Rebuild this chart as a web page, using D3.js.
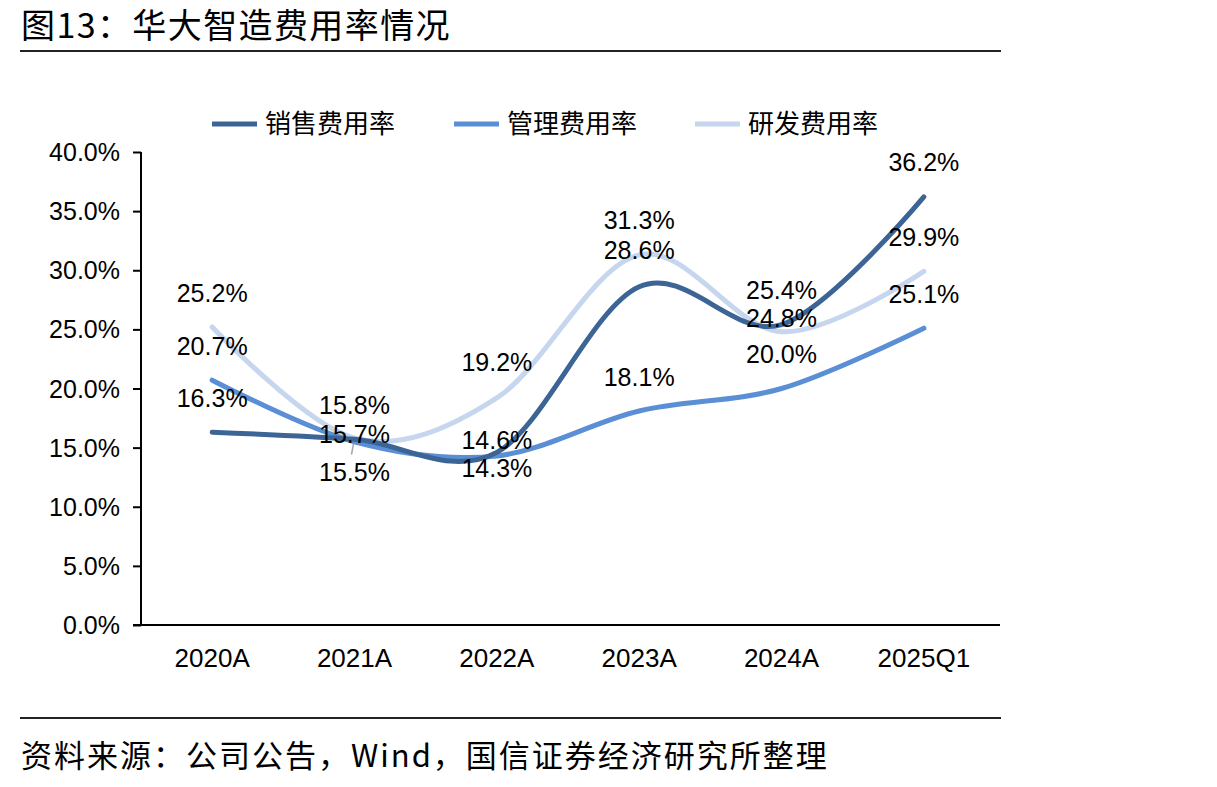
<!DOCTYPE html>
<html>
<head>
<meta charset="utf-8">
<script src="https://cdn.jsdelivr.net/npm/d3@7/dist/d3.min.js"></script>
<style>
  body { margin: 0; background: #fff; }
  svg { display: block; }
</style>
</head>
<body>
<div id="chart"></div>
<script>
// categories + series (percent)
var years = ["2020A", "2021A", "2022A", "2023A", "2024A", "2025Q1"];
var sales = [16.3, 15.7, 14.6, 28.6, 25.4, 36.2];   // 销售费用率
var admin = [20.7, 15.5, 14.3, 18.1, 20.0, 25.1];   // 管理费用率
var rnd   = [25.2, 15.8, 19.2, 31.3, 24.8, 29.9];   // 研发费用率
var yTicks = [0, 5, 10, 15, 20, 25, 30, 35, 40];

// label nudges (px, from the point) - the original has some labels moved by hand
var salesLabelDy = [-34, -5, -12, -37, -35, -35];
var adminLabelDy = [-34, 30, 12, -34, -35, -34];
var rndLabelDy   = [-34, -33, -36, -35, -14, -34];

var W = 1217, H = 787;
var latin = "Arimo, 'Liberation Sans', Arial, Helvetica, sans-serif";
var cjk = "'Noto Sans CJK SC', 'Noto Sans', sans-serif";

var series = [
  {name: "销售费用率", values: sales, color: "#3c6596", dy: salesLabelDy},
  {name: "管理费用率", values: admin, color: "#5b8fd5", dy: adminLabelDy},
  {name: "研发费用率", values: rnd,   color: "#c6d6ee", dy: rndLabelDy}
];

var svg = d3.select("#chart").append("svg")
    .attr("width", W)
    .attr("height", H);

// title + rules
svg.append("text")
    .attr("x", 21).attr("y", 38)
    .style("font-family", cjk)
    .style("font-size", "34px")
    .style("letter-spacing", "1.4px")
    .style("fill", "#000")
    .text("图13：华大智造费用率情况");

svg.append("line")
    .attr("x1", 20).attr("x2", 1001).attr("y1", 51).attr("y2", 51)
    .attr("stroke", "#222").attr("stroke-width", 2);

svg.append("line")
    .attr("x1", 20).attr("x2", 1001).attr("y1", 718).attr("y2", 718)
    .attr("stroke", "#222").attr("stroke-width", 2);

svg.append("text")
    .attr("x", 21).attr("y", 767)
    .style("font-family", cjk)
    .style("font-size", "31px")
    .style("letter-spacing", "2px")
    .style("fill", "#000")
    .text("资料来源：公司公告，Wind，国信证券经济研究所整理");

// scales
var x = d3.scalePoint().domain(years).range([141, 995]).padding(0.5);
var y = d3.scaleLinear().domain([0, 40]).range([625, 152]);

function label(g, tx, ty, str, size, anchor) {
  return g.append("text")
      .attr("x", tx).attr("y", ty)
      .attr("text-anchor", anchor)
      .attr("dy", "0.36em")
      .style("font-family", latin)
      .style("font-size", size + "px")
      .style("fill", "#000")
      .text(str);
}

// y axis
var yAxis = svg.append("g")
    .attr("transform", "translate(141,0)")
    .call(d3.axisLeft(y).tickValues(yTicks).tickSize(8).tickFormat(""));
yAxis.select(".domain").attr("stroke", "#000").attr("stroke-width", 2).attr("d", "M0,152V625");
yAxis.selectAll(".tick line").attr("stroke", "#000").attr("stroke-width", 2);
yTicks.forEach(function(t) {
  label(svg, 120, y(t), t.toFixed(1) + "%", 25, "end");
});

// x axis
var xAxis = svg.append("g")
    .attr("transform", "translate(0,625)")
    .call(d3.axisBottom(x).tickSize(0).tickFormat(""));
xAxis.select(".domain").attr("stroke", "#000").attr("stroke-width", 2).attr("d", "M133,0H1000");
years.forEach(function(c) {
  label(svg, x(c), 658, c, 26, "middle");
});

// lines
var line = d3.line()
    .x(function(d, i) { return x(years[i]); })
    .y(function(d) { return y(d); })
    .curve(d3.curveCardinal.tension(0));

// draw light first so darker series sit on top
series.slice().reverse().forEach(function(s) {
  svg.append("path")
      .datum(s.values)
      .attr("d", line)
      .attr("fill", "none")
      .attr("stroke", s.color)
      .attr("stroke-width", 5)
      .attr("stroke-linecap", "round");
});

// leader line for the moved 15.5% label
svg.append("line")
    .attr("x1", x("2021A") - 3).attr("y1", y(admin[1]) + 13)
    .attr("x2", x("2021A") - 1).attr("y2", y(admin[1]) + 2)
    .attr("stroke", "#a6a6a6").attr("stroke-width", 1.5);

// data labels
series.forEach(function(s) {
  s.values.forEach(function(v, i) {
    label(svg, x(years[i]), y(v) + s.dy[i], v.toFixed(1) + "%", 25, "middle");
  });
});

// legend
var legendX = [212, 454, 695];
series.forEach(function(s, i) {
  var g = svg.append("g").attr("transform", "translate(" + legendX[i] + ",124)");
  g.append("line")
      .attr("x1", 0).attr("x2", 45).attr("y1", 0).attr("y2", 0)
      .attr("stroke", s.color).attr("stroke-width", 5);
  g.append("text")
      .attr("x", 53).attr("y", 0).attr("dy", "0.36em")
      .style("font-family", cjk)
      .style("font-size", "26px")
      .style("fill", "#000")
      .text(s.name);
});
</script>
</body>
</html>
